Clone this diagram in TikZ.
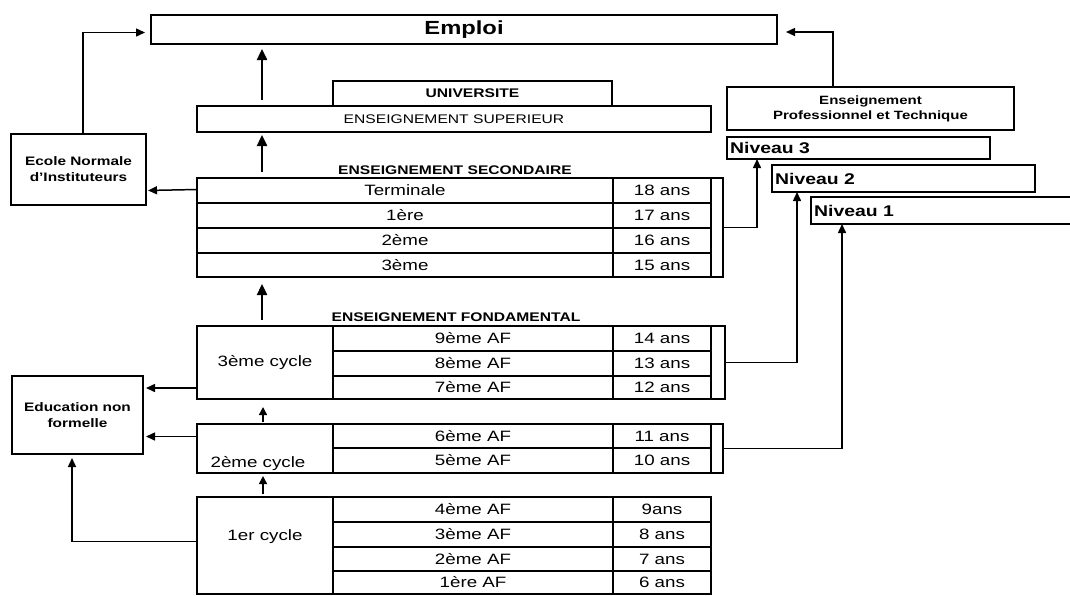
\documentclass[tikz,border=0pt]{standalone}
\usepackage{fontspec}
\setmainfont{Liberation Sans}[FakeStretch=1.25]
\usetikzlibrary{arrows.meta,calc}
\newcommand\cellbox[6][]{\node[bx,#1,minimum width={(#4)-(#2)},minimum height={(#5)-(#3)}] (#6) at ({((#2)+(#4))/2},{((#3)+(#5))/2})}
\begin{document}
\begin{tikzpicture}[x=1pt,y=-1pt,
  bx/.style={draw,line width=1.5pt,inner sep=0pt,outer sep=0pt},
  tx/.style={font=\fontsize{15}{17}\selectfont},
  lab/.style={font=\fontsize{12.5}{14}\selectfont\bfseries,inner sep=0pt},
  niv/.style={font=\fontsize{15.5}{17}\selectfont\bfseries},
  side/.style={font=\fontsize{12.3}{16}\selectfont\bfseries,align=center},
  arr/.style={line width=1.5pt,-{Triangle[length=9pt,width=8pt]}},
  bigarr/.style={line width=2.4pt,-{Triangle[length=11pt,width=10pt]}},
  smallarr/.style={line width=1.5pt,-{Triangle[length=8pt,width=8pt]}}]
\useasboundingbox (0,0) rectangle (1070,595);
\clip (0,0) rectangle (1070,595);
\fill[white] (0,0) rectangle (1070,595);

% top boxes
\cellbox[font=\fontsize{19}{21}\selectfont\bfseries]{151}{15}{777}{44}{emploi} {Emploi};
\cellbox[lab]{333}{81}{612}{106}{univ} {UNIVERSITE};
\cellbox[font=\fontsize{12.5}{14}\selectfont]{197}{106}{711}{132}{sup} {ENSEIGNEMENT SUPERIEUR};

% side boxes
\cellbox[side]{11}{134}{146}{205}{eni} {Ecole Normale\\d'Instituteurs};
\cellbox[side]{12}{376}{143}{454}{enf} {Education non\\formelle};

% technical
\cellbox[font=\fontsize{12}{15}\selectfont\bfseries,align=center]{727}{87}{1014}{130}{ept} {Enseignement\\Professionnel et Technique};
\cellbox[label={[niv,anchor=west,inner sep=3pt]west:Niveau 3}]{727}{137}{990}{159}{n3} {};
\cellbox[label={[niv,anchor=west,inner sep=3pt]west:Niveau 2}]{772}{165}{1035}{192}{n2} {};
\cellbox[label={[niv,anchor=west,inner sep=3pt]west:Niveau 1}]{811}{197}{1090}{224}{n1} {};

% secondaire
\node[lab] (lsec) at (455,170) {ENSEIGNEMENT SECONDAIRE};
\cellbox[tx]{197}{178}{613}{203}{s1} {Terminale};
\cellbox[tx]{197}{203}{613}{228}{s2} {1ère};
\cellbox[tx]{197}{228}{613}{253}{s3} {2ème};
\cellbox[tx]{197}{253}{613}{277}{s4} {3ème};
\cellbox[tx]{613}{178}{711}{203}{sa1} {18 ans};
\cellbox[tx]{613}{203}{711}{228}{sa2} {17 ans};
\cellbox[tx]{613}{228}{711}{253}{sa3} {16 ans};
\cellbox[tx]{613}{253}{711}{277}{sa4} {15 ans};
\cellbox{711}{178}{723}{277}{sb} {};

% fondamental 3eme cycle
\node[lab] (lfond) at (456,317) {ENSEIGNEMENT FONDAMENTAL};
\cellbox[tx]{197}{326}{333}{399}{c3} {3ème cycle};
\cellbox[tx]{333}{326}{613}{351}{f9} {9ème AF};
\cellbox[tx]{333}{351}{613}{376}{f8} {8ème AF};
\cellbox[tx]{333}{376}{613}{399}{f7} {7ème AF};
\cellbox[tx]{613}{326}{711}{351}{fa9} {14 ans};
\cellbox[tx]{613}{351}{711}{376}{fa8} {13 ans};
\cellbox[tx]{613}{376}{711}{399}{fa7} {12 ans};
\cellbox{711}{326}{725}{399}{c3b} {};

% 2eme cycle
\cellbox{197}{424}{333}{473}{c2} {};
\node[tx,anchor=south] (c2t) at (258,474) {2ème cycle};
\cellbox[tx]{333}{424}{613}{448}{f6} {6ème AF};
\cellbox[tx]{333}{448}{613}{473}{f5} {5ème AF};
\cellbox[tx]{613}{424}{711}{448}{fa6} {11 ans};
\cellbox[tx]{613}{448}{711}{473}{fa5} {10 ans};
\cellbox{711}{424}{723}{473}{c2b} {};

% 1er cycle
\cellbox{197}{497}{333}{594}{c1} {};
\node[tx] (c1t) at (265,537) {1er cycle};
\cellbox[tx]{333}{497}{613}{522}{f4} {4ème AF};
\cellbox[tx]{333}{522}{613}{547}{f3} {3ème AF};
\cellbox[tx]{333}{547}{613}{571}{f2} {2ème AF};
\cellbox[tx]{333}{571}{613}{594}{f1} {1ère AF};
\cellbox[tx]{613}{497}{711}{522}{fa4} {9ans};
\cellbox[tx]{613}{522}{711}{547}{fa3} {8 ans};
\cellbox[tx]{613}{547}{711}{571}{fa2} {7 ans};
\cellbox[tx]{613}{571}{711}{594}{fa1} {6 ans};

% vertical arrows in the middle column
\coordinate (v1) at (262,100);
\coordinate (v2) at (262,172);
\coordinate (v3) at (262,320);
\coordinate (v4) at (263,422);
\coordinate (v5) at (263,494);
\draw[bigarr,shorten >=5pt] (v1) -- (v1 |- emploi.south);
\draw[bigarr,shorten >=3pt] (v2) -- (v2 |- sup.south);
\draw[bigarr,shorten >=7pt] (v3) -- (v3 |- s4.south);
\draw[smallarr,shorten >=8pt] (v4) -- (v4 |- c3.south);
\draw[smallarr,shorten >=3pt] (v5) -- (v5 |- c2.south);

% left side connectors
\draw[arr,shorten >=6pt] ([xshift=72pt]eni.north west) |- ([yshift=-3pt]emploi.west);
\draw[arr,shorten >=2pt] ([yshift=1pt]s1.west) -- (s1.west -| eni.east);
\draw[arr,shorten >=3pt] ([yshift=11pt]c3.south west) -- ([yshift=11pt]c3.south west -| enf.east);
\draw[arr,shorten >=3pt] ([yshift=12pt]c2.west) -- ([yshift=12pt]c2.west -| enf.east);
\draw[arr,shorten >=4pt] ([yshift=4pt]c1.west) -| ([xshift=60pt]enf.south west);

% right side connectors
\draw[arr,shorten >=9pt] ([xshift=106pt]ept.north west) |- ([yshift=-2.5pt]emploi.east);
\draw[arr] (sb.east) -| ([xshift=30pt]n3.south west);
\draw[arr] (c3b.east) -| ([xshift=25pt]n2.south west);
\draw[arr] (c2b.east) -| ([xshift=31pt]n1.south west);
\end{tikzpicture}
\end{document}
